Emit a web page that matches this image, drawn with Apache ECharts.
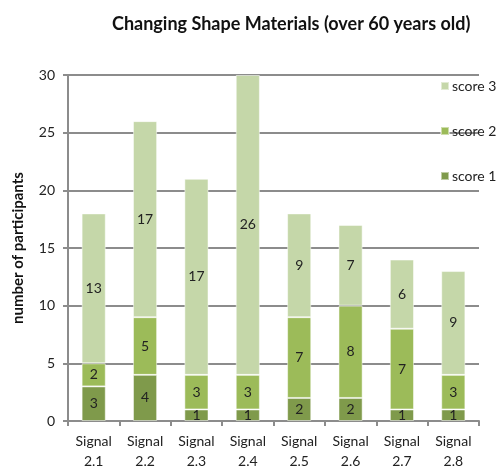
<!DOCTYPE html>
<html><head><meta charset="utf-8">
<script src="https://cdn.jsdelivr.net/npm/echarts@6/dist/echarts.min.js"></script>
<style>html,body{margin:0;padding:0;background:#fff}#c{width:503px;height:472px}</style>
</head><body><div id="c"></div>
<script>
var categories = ['Signal\n2.1','Signal\n2.2','Signal\n2.3','Signal\n2.4','Signal\n2.5','Signal\n2.6','Signal\n2.7','Signal\n2.8'];
var score1 = [3,4,1,1,2,2,1,1];
var score2 = [2,5,3,3,7,8,7,3];
var score3 = [13,17,17,26,9,7,6,9];
var yTicks = [0,5,10,15,20,25,30];

var FONT = 'Lato';
var colors = {s1:'#7F9A4B', s2:'#9CBB59', s3:'#C5D7A9'};
function ser(name, data, color){
  return {name:name, type:'bar', stack:'t', data:data, barWidth:'47%',
    itemStyle:{color:color, borderColor:'rgba(255,255,255,0.5)', borderWidth:1},
    label:{show:true, position:'inside', color:'#222', fontFamily:FONT, fontSize:14}};
}
var chart = echarts.init(document.getElementById('c'));
chart.setOption({
  animation:false,
  title:{text:'Changing Shape Materials (over 60 years old)', left:107, top:10,
    textStyle:{fontFamily:FONT, fontWeight:'bold', fontSize:18, color:'#111'}},
  legend:{orient:'vertical', left:435, top:74, itemGap:31, itemWidth:8, itemHeight:8,
    icon:'rect', data:['score 3','score 2','score 1'],
    textStyle:{fontFamily:FONT, fontSize:14, color:'#222', padding:[0,0,0,-2]}},
  grid:{left:68, right:24, top:75, bottom:51},
  xAxis:{type:'category', data:categories,
    axisLine:{lineStyle:{color:'#8c8c8c', width:2}},
    axisTick:{show:true, length:5, lineStyle:{color:'#8c8c8c', width:2}},
    axisLabel:{fontFamily:FONT, fontSize:14, color:'#222', lineHeight:20, margin:10}},
  yAxis:{type:'value', min:yTicks[0], max:yTicks[yTicks.length-1], interval:5,
    name:'number of participants', nameLocation:'middle', nameGap:42,
    nameTextStyle:{fontFamily:FONT, fontWeight:'bold', fontSize:15, color:'#111'},
    axisLine:{show:true, lineStyle:{color:'#8c8c8c', width:2}},
    axisTick:{show:true, length:5, lineStyle:{color:'#8c8c8c', width:2}},
    splitLine:{lineStyle:{color:'#8c8c8c', width:2}},
    axisLabel:{fontFamily:FONT, fontSize:14, color:'#222', margin:13}},
  series:[ser('score 1', score1, colors.s1), ser('score 2', score2, colors.s2), ser('score 3', score3, colors.s3)]
});
</script></body></html>
